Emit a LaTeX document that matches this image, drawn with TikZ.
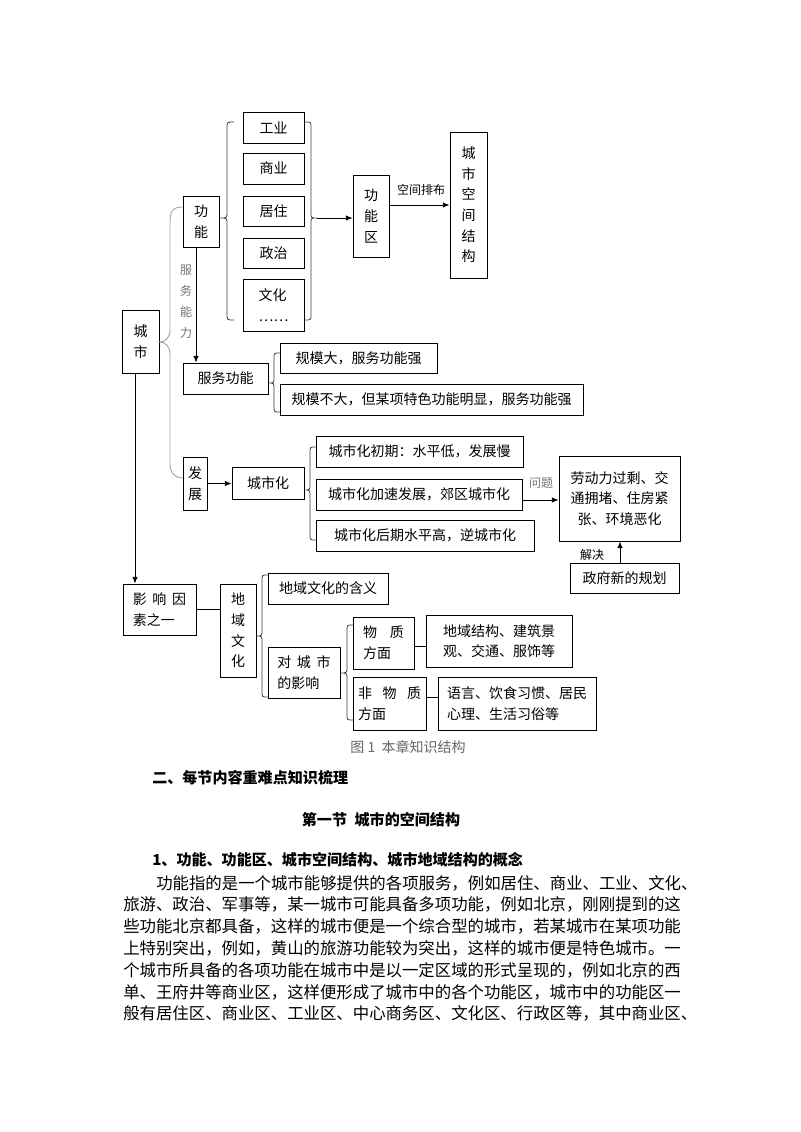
\documentclass[tikz,border=0pt]{standalone}
\usepackage{fontspec}
\setmainfont{Noto Sans CJK SC}
\usetikzlibrary{arrows.meta,calc}
\newcommand\bx[7][]{\node[bx,minimum width={(#5-#3)*0.75pt},minimum height={(#6-#4)*0.75pt},#1] (#2) at ({(#3+#5)/2},{(#4+#6)/2}) {#7};}
\newcommand\brc[7][brc]{\draw[#1] (#2,#5) .. controls (#3,#5) .. (#3,{#5+6}) -- (#3,{#6-6}) .. controls (#3,#6) .. (#4,#6) .. controls (#3,#6) .. (#3,{#6+6}) -- (#3,{#7-6}) .. controls (#3,#7) .. (#2,#7);}
\begin{document}
\begin{tikzpicture}[x=0.75pt,y=-0.75pt,
  bx/.style={draw,line width=0.7pt,inner sep=0pt,align=center,font=\fontsize{10.5pt}{15.5pt}\selectfont},
  brc/.style={draw=black!75,line width=0.6pt},
  gbrc/.style={draw=black!35,line width=0.7pt},
  arr/.style={line width=0.6pt,-{Latex[length=5pt,width=4pt]}},
  ln/.style={line width=0.6pt},
  lbl/.style={font=\fontsize{9pt}{15.75pt}\selectfont,inner sep=0pt,align=center},
  glbl/.style={lbl,text=black!55},
  body/.style={font=\fontsize{12.3pt}{16pt}\selectfont,inner sep=0pt,anchor=west},
  head/.style={font=\fontsize{11.3pt}{16pt}\selectfont\bfseries,inner sep=0pt}]
\fill[white] (0,0) rectangle (800,1132);
\useasboundingbox (0,0) rectangle (800,1132);

% top group
\bx{gongye}{243}{112}{304}{143}{工业}
\bx{shangye}{243}{153}{304}{184}{商业}
\bx{juzhu}{243}{196}{304}{226}{居住}
\bx{zhengzhi}{243}{238}{304}{268}{政治}
\bx[align=left]{wenhua}{243}{279}{304}{331}{文化\\……}
\bx{gn}{183}{196}{219}{247}{功\\能}
\bx{gnq}{353}{175}{389}{257}{功\\能\\区}
\bx{kjjg}{450}{132}{487}{278}{城\\市\\空\\间\\结\\构}
\bx{cs}{122}{310}{159}{373}{城\\市}

\brc{234}{227}{220}{122}{218}{320}
\brc{305}{311}{317}{122}{218}{320}
\coordinate (rb) at (317,218);
\draw[arr] (rb) -- (rb -| gnq.west);
\draw[arr] (kjjg.west -| gnq.east) -- (kjjg.west);
\node[lbl] (kjlbl) at (421,190) {空间排布};

% service function
\bx{fwgn}{183}{363}{268}{394}{服务功能}
\bx{gm1}{280}{343}{437}{373}{规模大，服务功能强}
\bx{gm2}{280}{384}{583}{415}{规模不大，但某项特色功能明显，服务功能强}
\brc{280}{274}{268}{353}{383}{412}
\coordinate (vx) at (196,0);
\draw[arr] (gn.south -| vx) -- (fwgn.north -| vx);
\node[glbl] (fwnl) at (186,302) {服\\务\\能\\力};

% development
\bx{fz}{183}{457}{207}{510}{发\\展}
\bx{csh}{232}{467}{304}{499}{城市化}
\bx{c1}{316}{436}{523}{467}{城市化初期：水平低，发展慢}
\bx{c2}{316}{479}{522}{510}{城市化加速发展，郊区城市化}
\bx{c3}{316}{520}{534}{551}{城市化后期水平高，逆城市化}
\bx{ld}{559}{456}{680}{541}{劳动力过剩、交\\通拥堵、住房紧\\张、环境恶化}
\bx{zf}{570}{563}{679}{593}{政府新的规划}
\draw[arr] (fz.east) -- (fz.east -| csh.west);
\brc{316}{310}{304}{447}{490}{540}
\coordinate (c2r) at (522,500);
\draw[arr] (c2r) -- (c2r -| ld.west);
\node[glbl] (wt) at (541,483) {问题};
\coordinate (ux) at (620,0);
\draw[arr] (zf.north -| ux) -- (ld.south -| ux);
\node[lbl] (jj) at (592,555) {解决};

% gray brace from 城市
\draw[gbrc] (gn.west |- 0,207) .. controls (172,207) and (170,212) .. (170,222) -- (170,330) .. controls (170,338) and (165,342) .. (cs.east |- 0,342) .. controls (165,342) and (170,346) .. (170,354) -- (170,464) .. controls (170,473) and (175,478) .. (fz.west |- 0,478);

% regional culture
\bx[align=left]{yx}{123}{584}{196}{635}{影\hspace{0.4em}响\hspace{0.4em}因\\素之一}
\coordinate (sx) at (135,0);
\draw[arr] (cs.south -| sx) -- (yx.north -| sx);
\bx{dy}{220}{584}{256}{677}{地\\域\\文\\化}
\draw[ln] (yx.east) -- (yx.east -| dy.west);
\bx{hy}{268}{573}{388}{604}{地域文化的含义}
\bx[align=left]{dcs}{268}{647}{340}{698}{对\hspace{0.4em}城\hspace{0.4em}市\\的影响}
\brc{268}{262}{256}{575}{636}{697}
\bx[align=left]{wz}{353}{617}{414}{669}{物\hspace{0.9em}质\\方面}
\bx[align=left]{fwz}{353}{677}{426}{730}{非\hspace{0.75em}物\hspace{0.75em}质\\方面}
\brc{353}{347}{340}{625}{673}{720}
\bx[align=left]{djg}{426}{615}{572}{667}{地域结构、建筑景\\观、交通、服饰等}
\bx[align=left]{yy}{438}{677}{596}{730}{语言、饮食习惯、居民\\心理、生活习俗等}
\coordinate (wzr) at (414,646);
\draw[ln] (wzr) -- (wzr -| djg.west);
\coordinate (fwzr) at (426,697);
\draw[ln] (fwzr) -- (fwzr -| yy.west);

\node[font=\fontsize{10.5pt}{12pt}\selectfont,text=black!60,inner sep=0pt] (cap) at (408,747) {图 1\ \ 本章知识结构};

% text
\node[head,anchor=west] (h1) at (152,778) {二、每节内容重难点知识梳理};
\node[head] (h2) at (381,820) {第一节\hspace{0.5em}城市的空间结构};
\node[head,anchor=west] (h3) at (152,860) {1、功能、功能区、城市空间结构、城市地域结构的概念};
\node[body] (l1) at (156,883) {功能指的是一个城市能够提供的各项服务，例如居住、商业、工业、文化、};
\node[body] (l2) at (123,904.8) {旅游、政治、军事等，某一城市可能具备多项功能，例如北京，刚刚提到的这};
\node[body] (l3) at (123,926.6) {些功能北京都具备，这样的城市便是一个综合型的城市，若某城市在某项功能};
\node[body] (l4) at (123,948.4) {上特别突出，例如，黄山的旅游功能较为突出，这样的城市便是特色城市。一};
\node[body] (l5) at (123,970.2) {个城市所具备的各项功能在城市中是以一定区域的形式呈现的，例如北京的西};
\node[body] (l6) at (123,992) {单、王府井等商业区，这样便形成了城市中的各个功能区，城市中的功能区一};
\node[body] (l7) at (123,1013.8) {般有居住区、商业区、工业区、中心商务区、文化区、行政区等，其中商业区、};
\end{tikzpicture}
\end{document}
